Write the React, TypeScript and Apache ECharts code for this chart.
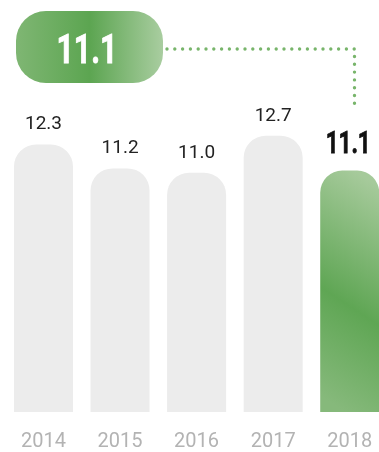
import React, { useEffect, useRef } from "react";
import * as echarts from "echarts";

const years = ["2014", "2015", "2016", "2017", "2018"];
const values = [12.3, 11.2, 11.0, 12.7, 11.1];
const highlightLabel = "11.1";

const FONT = 'Roboto, "Noto Sans", sans-serif';

export default function App() {
  const ref = useRef<HTMLDivElement>(null);
  useEffect(() => {
    const chart = echarts.init(ref.current!, null, { renderer: "svg" });
    const last = values.length - 1;
    chart.setOption({
      animation: false,
      grid: { left: 5.2, right: 0, top: 85.75, bottom: 40 },
      xAxis: {
        type: "category",
        data: years,
        axisLine: { show: false },
        axisTick: { show: false },
        axisLabel: { color: "#b3b3b3", fontSize: 20, fontFamily: FONT, margin: 18 },
      },
      yAxis: { type: "value", min: 0, max: 15, show: false, splitLine: { show: false } },
      series: [
        {
          type: "bar",
          barWidth: 59,
          data: values.map((v, i) =>
            i === last
              ? {
                  value: v,
                  itemStyle: {
                    color: new echarts.graphic.LinearGradient(0.58, 0, 0.42, 1, [
                      { offset: 0, color: "#a6ca9b" },
                      { offset: 0.56, color: "#5fa654" },
                      { offset: 1, color: "#86b97b" },
                    ]),
                  },
                  label: { show: false },
                }
              : v
          ),
          itemStyle: { color: "#ececec", borderRadius: [22, 22, 0, 0] },
          label: {
            show: true,
            position: "top",
            distance: 12,
            fontSize: 19,
            color: "#222222",
            fontFamily: FONT,
            formatter: (p: any) => Number(p.value).toFixed(1),
          },
        },
      ],
    });

    // position the highlighted value label from the chart's own scale
    const [lx, ly] = chart.convertToPixel({ seriesIndex: 0 }, [last, values[last]]) as number[];

    chart.setOption({
      graphic: [
        {
          type: "rect",
          shape: { x: 16, y: 11, width: 147, height: 72, r: 30 },
          style: {
            fill: new echarts.graphic.LinearGradient(0, 0, 1, 0, [
              { offset: 0, color: "#7fb673" },
              { offset: 0.5, color: "#5ca551" },
              { offset: 1, color: "#a9cda0" },
            ]),
          },
        },
        {
          type: "text",
          x: 87,
          y: 49,
          scaleX: 0.76,
          style: {
            text: highlightLabel,
            fill: "#ffffff",
            stroke: "#ffffff",
            lineWidth: 0.8,
            fontSize: 40,
            fontWeight: "bold",
            fontFamily: FONT,
            align: "center",
            verticalAlign: "middle",
          },
        },
        {
          type: "text",
          x: lx - 1.5,
          y: ly - 27.6,
          scaleX: 0.72,
          style: {
            text: Number(values[last]).toFixed(1),
            fill: "#111111",
            stroke: "#111111",
            lineWidth: 0.8,
            fontSize: 31,
            fontWeight: "bold",
            fontFamily: FONT,
            align: "center",
            verticalAlign: "middle",
          },
        },
        {
          type: "polyline",
          shape: { points: [[167, 49], [354.5, 49], [354.5, 107.5]] },
          style: { stroke: "#78b56b", lineWidth: 3.4, lineDash: [0, 7.8], lineCap: "round", fill: "none" },
        },
      ],
    });
    return () => chart.dispose();
  }, []);
  return (
    <div style={{ position: "fixed", left: 0, top: 0, width: 379, height: 452, overflow: "hidden" }}>
      <div ref={ref} style={{ width: 388.2, height: 452 }} />
    </div>
  );
}
